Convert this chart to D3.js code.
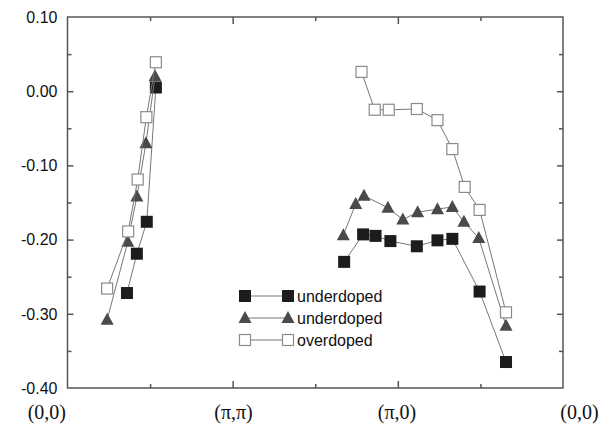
<!DOCTYPE html>
<html>
<head>
<meta charset="utf-8">
<script src="https://cdn.jsdelivr.net/npm/d3@7"></script>
<style>
  body { margin: 0; background: #fff; }
  svg { display: block; }
</style>
</head>
<body>
<svg id="chart"></svg>
<script>
// data
const underA_x = [0.72, 0.84, 0.96, 1.07, 3.35, 3.58, 3.73, 3.91, 4.23, 4.48, 4.66, 4.99, 5.31];
const underA_y = [-0.272, -0.219, -0.176, 0.005, -0.230, -0.193, -0.195, -0.202, -0.209, -0.201, -0.199, -0.270, -0.365];
const underB_x = [0.48, 0.73, 0.84, 0.95, 1.06, 3.34, 3.49, 3.59, 3.88, 4.06, 4.24, 4.48, 4.66, 4.80, 4.98, 5.31];
const underB_y = [-0.308, -0.203, -0.142, -0.070, 0.020, -0.194, -0.152, -0.141, -0.157, -0.173, -0.163, -0.159, -0.156, -0.176, -0.198, -0.316];
const over_x = [0.48, 0.735, 0.85, 0.955, 1.07, 3.56, 3.72, 3.89, 4.23, 4.48, 4.66, 4.81, 4.99, 5.31];
const over_y = [-0.266, -0.189, -0.119, -0.035, 0.039, 0.026, -0.025, -0.025, -0.024, -0.039, -0.078, -0.129, -0.160, -0.298];

// left and right branches are separate line pieces
const underA_breaks = [4];
const underB_breaks = [5];
const over_breaks = [5];

const yTicks = [0.10, 0.00, -0.10, -0.20, -0.30, -0.40];
const xLabels = ["(0,0)", "(\u03c0,\u03c0)", "(\u03c0,0)", "(0,0)"];
const xLabelPos = [-0.25, 2.01, 3.99, 6.2];
const legendNames = ["underdoped", "underdoped", "overdoped"];

const width = 608, height = 433;
const margin = { top: 17, right: 45, bottom: 45, left: 67.5 };

const svg = d3.select("#chart").attr("width", width).attr("height", height);

const x = d3.scaleLinear().domain([0, 6]).range([margin.left, width - margin.right]);
const y = d3.scaleLinear().domain([-0.4, 0.1]).range([height - margin.bottom, margin.top]);

const frameColor = "#555";

// frame
svg.append("rect")
  .attr("x", x(0)).attr("y", y(0.1))
  .attr("width", x(6) - x(0)).attr("height", y(-0.4) - y(0.1))
  .attr("fill", "none").attr("stroke", frameColor).attr("stroke-width", 1.5);

// y ticks, inward on both sides
const yMinor = d3.range(-0.35, 0.1, 0.1);
const yMajor = d3.range(-0.3, 0.1, 0.1);
svg.append("g").call(d3.axisLeft(y).tickValues(yMajor).tickSize(-6).tickFormat(""))
  .attr("transform", `translate(${x(0)},0)`);
svg.append("g").call(d3.axisLeft(y).tickValues(yMinor).tickSize(-4).tickFormat(""))
  .attr("transform", `translate(${x(0)},0)`);
svg.append("g").call(d3.axisRight(y).tickValues(yMajor).tickSize(-6).tickFormat(""))
  .attr("transform", `translate(${x(6)},0)`);
svg.append("g").call(d3.axisRight(y).tickValues(yMinor).tickSize(-4).tickFormat(""))
  .attr("transform", `translate(${x(6)},0)`);

// x ticks, inward top and bottom
svg.append("g").call(d3.axisBottom(x).tickValues([2, 4]).tickSize(-7).tickFormat(""))
  .attr("transform", `translate(0,${y(-0.4)})`);
svg.append("g").call(d3.axisBottom(x).tickValues([1, 3, 5]).tickSize(-4).tickFormat(""))
  .attr("transform", `translate(0,${y(-0.4)})`);
svg.append("g").call(d3.axisTop(x).tickValues([2, 4]).tickSize(-7).tickFormat(""))
  .attr("transform", `translate(0,${y(0.1)})`);
svg.append("g").call(d3.axisTop(x).tickValues([1, 3, 5]).tickSize(-4).tickFormat(""))
  .attr("transform", `translate(0,${y(0.1)})`);

svg.selectAll(".domain").remove();
svg.selectAll(".tick line").attr("stroke", frameColor).attr("stroke-width", 1.5);

// y labels
svg.append("g").selectAll("text")
  .data(yTicks)
  .join("text")
  .attr("x", x(0) - 10)
  .attr("y", d => y(d))
  .attr("dy", "0.36em")
  .attr("text-anchor", "end")
  .attr("font-family", "Liberation Sans, Arial, sans-serif")
  .attr("font-size", 16)
  .attr("fill", "#111")
  .text(d => d.toFixed(2));

// x labels
svg.append("g").selectAll("text")
  .data(xLabels)
  .join("text")
  .attr("x", (d, i) => x(xLabelPos[i]))
  .attr("y", 419)
  .attr("text-anchor", "middle")
  .attr("font-family", "Liberation Serif, Times New Roman, serif")
  .attr("font-size", 20)
  .attr("fill", "#111")
  .text(d => d);

const series = [
  { xs: underA_x, ys: underA_y, breaks: underA_breaks, shape: "square", fill: "#1c1c1c", stroke: "#1c1c1c" },
  { xs: underB_x, ys: underB_y, breaks: underB_breaks, shape: "triangle", fill: "#4a4a4a", stroke: "#4a4a4a" },
  { xs: over_x, ys: over_y, breaks: over_breaks, shape: "open", fill: "#fff", stroke: "#8a8a8a" }
];

const line = d3.line().x(d => x(d[0])).y(d => y(d[1]));

function marker(g, shape, fill, stroke) {
  if (shape === "triangle") {
    g.append("path").attr("d", "M0,-7L6.5,5L-6.5,5Z").attr("fill", fill);
  } else if (shape === "square") {
    g.append("rect").attr("x", -6).attr("y", -6).attr("width", 12).attr("height", 12).attr("fill", fill);
  } else {
    g.append("rect").attr("x", -5.5).attr("y", -5.5).attr("width", 11).attr("height", 11)
      .attr("fill", fill).attr("stroke", stroke).attr("stroke-width", 1.2);
  }
}

series.forEach(s => {
  const pts = s.xs.map((v, i) => [v, s.ys[i]]);
  const pieces = [];
  let start = 0;
  s.breaks.concat([pts.length]).forEach(b => { pieces.push(pts.slice(start, b)); start = b; });
  pieces.forEach(p => {
    svg.append("path").attr("d", line(p))
      .attr("fill", "none").attr("stroke", "#777").attr("stroke-width", 1);
  });
  pts.forEach(p => {
    const g = svg.append("g").attr("transform", `translate(${x(p[0])},${y(p[1])})`);
    marker(g, s.shape, s.fill, s.stroke);
  });
});

// legend
const legend = svg.append("g");
series.forEach((s, i) => {
  const ly = 296 + i * 22;
  legend.append("line").attr("x1", 245).attr("x2", 288).attr("y1", ly).attr("y2", ly)
    .attr("stroke", "#777").attr("stroke-width", 1);
  [245, 288].forEach(lx => {
    const g = legend.append("g").attr("transform", `translate(${lx},${ly})`);
    marker(g, s.shape, s.fill, s.stroke);
  });
  legend.append("text")
    .attr("x", 297).attr("y", ly).attr("dy", "0.36em")
    .attr("font-family", "Liberation Sans, Arial, sans-serif")
    .attr("font-size", 16).attr("fill", "#111")
    .text(legendNames[i]);
});
</script>
</body>
</html>
